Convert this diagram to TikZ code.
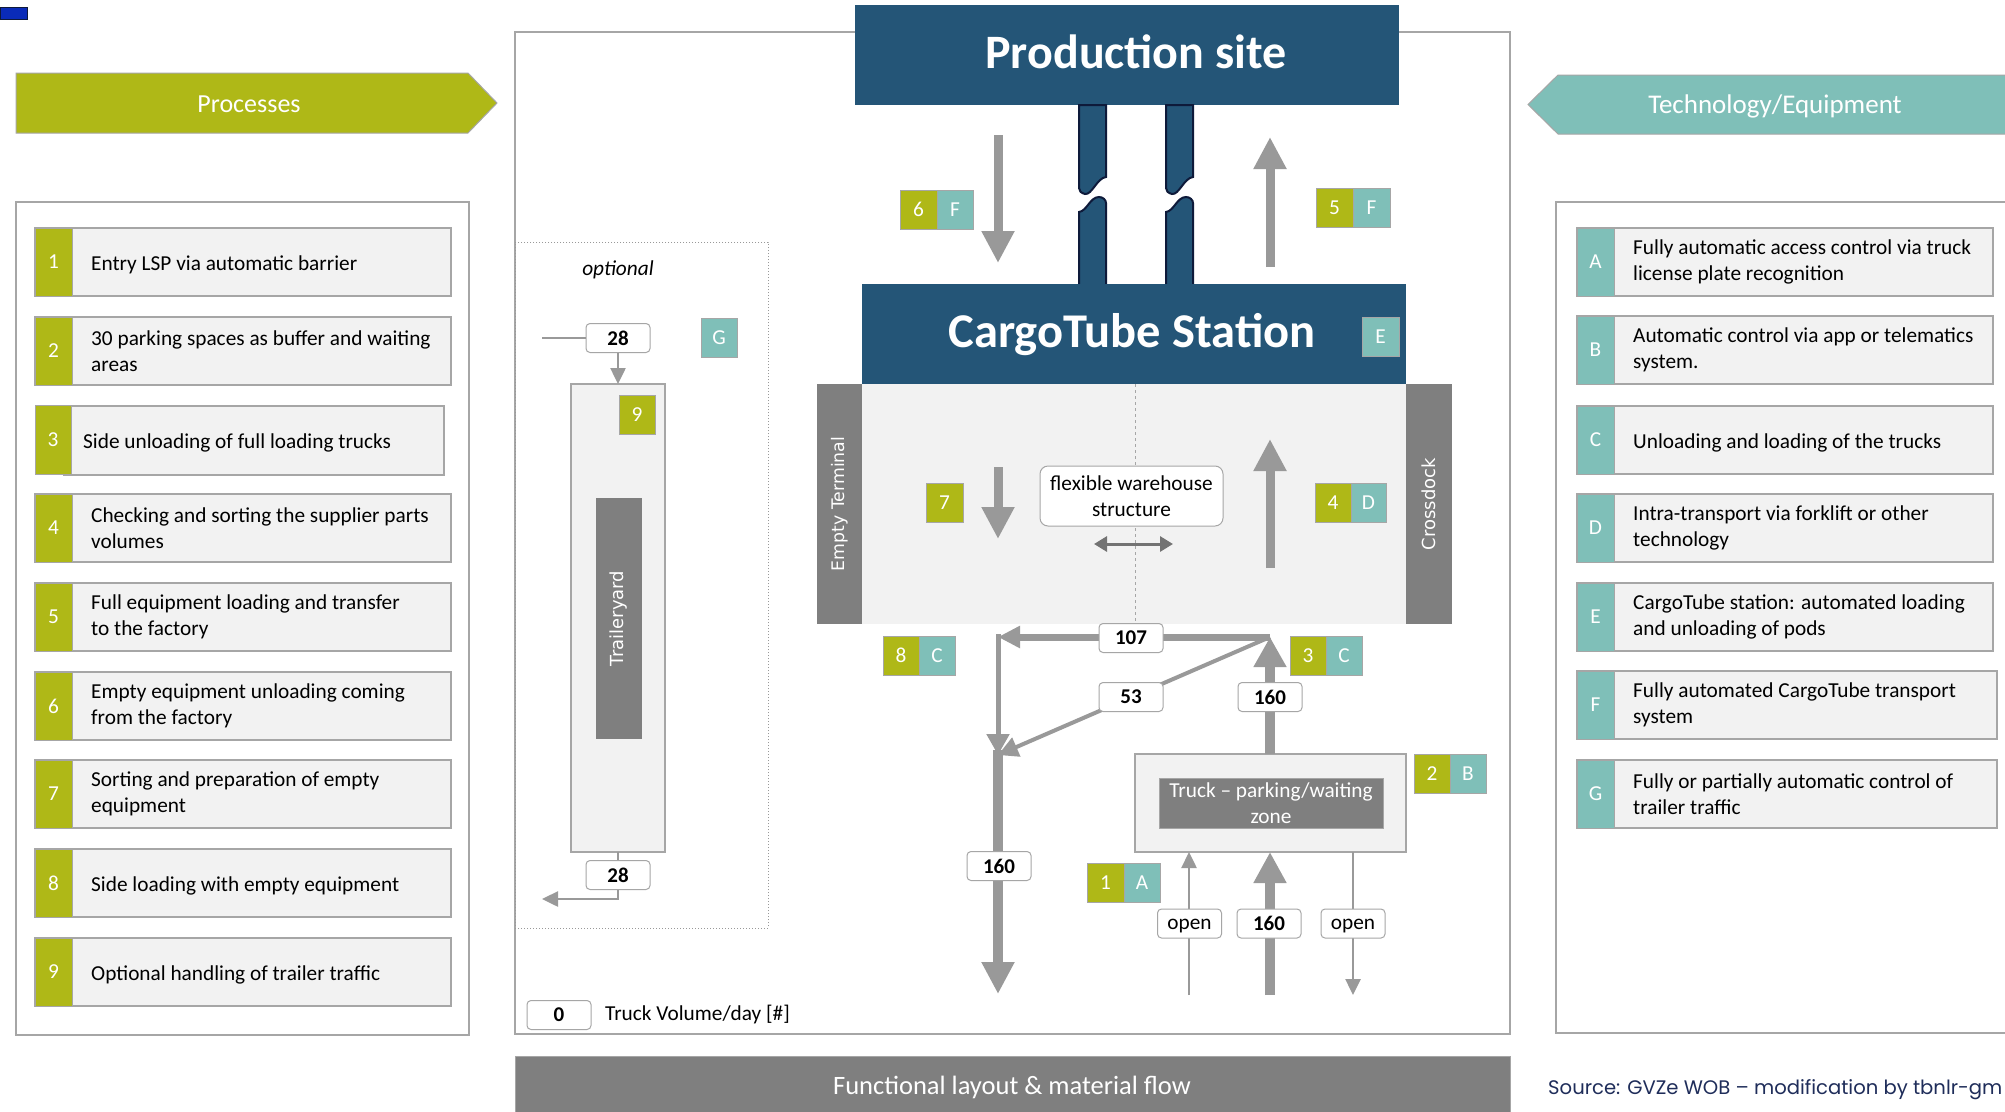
\documentclass[tikz,border=0pt]{standalone}
\usepackage{fontspec}
\setmainfont{Carlito}
\newfontfamily\wideface{DejaVu Sans}
\newfontfamily\srcface{Poppins}
\usetikzlibrary{arrows.meta}
\definecolor{cOlive}{HTML}{AFB817}
\definecolor{cTeal}{HTML}{7FBFB8}
\definecolor{cNavy}{HTML}{245577}
\definecolor{cTubeEdge}{HTML}{0E1A3A}
\definecolor{cDark}{HTML}{7F7F7F}
\definecolor{cLight}{HTML}{F2F2F2}
\definecolor{cBorder}{HTML}{A6A6A6}
\definecolor{cArrow}{HTML}{999999}
\definecolor{cDbl}{HTML}{737373}
\definecolor{cSrc}{HTML}{1F2D5A}
\definecolor{cBlue}{HTML}{0A2BB8}
\newcommand{\fsN}{\fontsize{21.3}{26}\selectfont}
\newcommand{\fsB}{\fontsize{21}{26}\selectfont\bfseries}
\tikzset{
 box/.style={anchor=north west, inner sep=0pt, outer sep=0pt},
 itembox/.style={draw=cBorder, fill=cLight, line width=1.5pt},
 onum/.style={fill=cOlive, draw=cBorder, line width=1pt, text=white, font=\fsN},
 tnum/.style={fill=cTeal, draw=cBorder, line width=1pt, text=white, font=\fsN},
 badge/.style={box, minimum width=36pt, minimum height=39pt},
 itemtext/.style={anchor=west, align=left, font=\fsN, text=black, inner sep=0pt},
 one/.style={yshift=-3pt},
 two/.style={},
 lbl/.style={draw=cBorder, fill=white, rounded corners=4pt, line width=1pt, minimum width=64pt, minimum height=29pt, inner sep=0pt, font=\fsB},
 olbl/.style={lbl, font=\fsN, text height=15pt, text depth=3pt},
 thickarrow/.style={draw=cArrow, line width=9pt, -{Triangle[length=32pt,width=31pt]}},
 diagarrow/.style={draw=cArrow, line width=4pt, -{Triangle[length=20pt,width=20pt]}},
 thinarrow/.style={draw=cArrow, line width=2.5pt, -{Triangle[length=16pt,width=15pt]}},
 thinline/.style={draw=cArrow, line width=2.5pt},
 tube/.style={fill=cNavy, draw=cTubeEdge, line width=2pt},
 rotlabel/.style={rotate=90, text=white, font=\wideface\fontsize{17.3}{20}\selectfont},
}
\newcommand{\pitem}[5]{%
  \node[itembox, box, minimum width=416pt, minimum height=68pt] (#1) at (35,#2) {};
  \node[onum, box, minimum width=37pt, minimum height=68pt] (#1n) at (35,#2) {#3};
  \node[itemtext, #5] (#1t) at (91,#2+34) {#4};}
\newcommand{\titem}[6]{%
  \node[itembox, box, minimum width=#5pt, minimum height=68pt] (#1) at (1577,#2) {};
  \node[tnum, box, minimum width=37pt, minimum height=68pt] (#1n) at (1577,#2) {#3};
  \node[itemtext, #6] (#1t) at (1633,#2+34) {#4};}
\begin{document}
\begin{tikzpicture}[x=1pt,y=-1pt]
\useasboundingbox (0,0) rectangle (2005,1111);
\clip (0,0) rectangle (2005,1111);
\fill[white] (0,0) rectangle (2005,1111);
% small blue mark
\node[box, fill=cBlue, draw=cTubeEdge, line width=1pt, minimum width=27pt, minimum height=12pt] (mark) at (0,7) {};

% ---------- Processes ----------
\draw[fill=cOlive, draw=cBorder, line width=1pt] (16,73) -- (468,73) -- (497,103) -- (468,133) -- (16,133) -- cycle;
\node[text=white, font=\fontsize{26}{30}\selectfont] (proc) at (249,104) {Processes};
\node[box, draw=cBorder, fill=white, line width=1.5pt, minimum width=453pt, minimum height=833pt] (lpanel) at (16,202) {};
\pitem{p1}{228}{1}{Entry LSP via automatic barrier}{one}
\pitem{p2}{317}{2}{30 parking spaces as buffer and waiting\\areas}{two}
\node[itembox, box, minimum width=380pt, minimum height=69pt] (p3) at (64,406) {};
\node[onum, box, minimum width=36pt, minimum height=69pt] (p3n) at (35,405) {3};
\node[itemtext, one] (p3t) at (83,440) {Side unloading of full loading trucks};
\pitem{p4}{494}{4}{Checking and sorting the supplier parts\\volumes}{two}
\pitem{p5}{583}{5}{Full equipment loading and transfer\\to the factory}{two}
\pitem{p6}{672}{6}{Empty equipment unloading coming\\from the factory}{two}
\pitem{p7}{760}{7}{Sorting and preparation of empty\\equipment}{two}
\pitem{p8}{849}{8}{Side loading with empty equipment}{one}
\pitem{p9}{938}{9}{Optional handling of trailer traffic}{one}

% ---------- Technology ----------
\draw[fill=cTeal, draw=cBorder, line width=1pt] (2015,75) -- (1558,75) -- (1528,104.5) -- (1558,134) -- (2015,134) -- cycle;
\node[text=white, font=\fontsize{27}{30}\selectfont] (tech) at (1775,106) {Technology/Equipment};
\node[box, draw=cBorder, fill=white, line width=1.5pt, minimum width=460pt, minimum height=831pt] (rpanel) at (1556,202) {};
\titem{ta}{228}{A}{Fully automatic access control via truck\\license plate recognition}{416}{two}
\titem{tb}{316}{B}{Automatic control via app or telematics\\system.}{416}{two}
\titem{tc}{406}{C}{Unloading and loading of the trucks}{416}{one}
\titem{td}{494}{D}{Intra-transport via forklift or other\\technology}{416}{two}
\titem{te}{583}{E}{CargoTube station: automated loading\\and unloading of pods}{416}{two}
\titem{tf}{671}{F}{Fully automated CargoTube transport\\system}{420}{two}
\titem{tg}{760}{G}{Fully or partially automatic control of\\trailer traffic}{420}{two}

% ---------- Center panel ----------
\node[box, draw=cBorder, fill=white, line width=1.5pt, minimum width=995pt, minimum height=1002pt] (cpanel) at (515,32) {};
\node[box, draw=cBorder, fill=cDark, minimum width=995pt, minimum height=60pt] (banner) at (515,1056) {};
\node[text=white, font=\fontsize{26.5}{30}\selectfont] (bannertxt) at (1012,1087) {Functional layout \& material flow};
\node[anchor=west, inner sep=0pt, text=cSrc, font=\srcface\fontsize{19.6}{24}\selectfont] (src) at (1548,1090) {Source: GVZe WOB – modification by tbnlr-gm};

% optional trailer yard
\node[box, draw=cArrow, dotted, line width=1pt, minimum width=253pt, minimum height=686pt] (optbox) at (515,242) {};
\node[font=\fsN\itshape] (opttxt) at (618,270) {optional};
\node[box, draw=cBorder, fill=cLight, line width=1.2pt, minimum width=94pt, minimum height=468pt] (tyard) at (571,384) {};
\node[box, fill=cDark, minimum width=46pt, minimum height=241pt] (tbar) at (596,498) {};
\node[rotlabel, font=\wideface\fontsize{18}{20}\selectfont] (tbartxt) at (tbar.center) {Traileryard};
\node[onum, badge] (b9) at (619,395) {9};
\node[tnum, badge] (bG) at (701,318) {G};
\node[lbl] (t28a) at (618,338) {28};
\node[lbl] (t28b) at (618,875) {28};
\coordinate (tin) at (542,338);
\coordinate (tcorner) at (618,899);
\coordinate (tout) at (542,899);
\draw[thinline] (tin) -- (t28a.west);
\draw[thinarrow] (t28a.south) -- (tyard.north);
\draw[thinline] (tyard.south) -- (t28b.north);
\draw[thinarrow] (t28b.south) -- (tcorner) -- (tout);

% production site & tubes
\node[box, fill=cNavy, minimum width=544pt, minimum height=100pt] (prod) at (855,5) {};
\node[text=white, font=\fontsize{48}{50}\selectfont\bfseries] (prodtxt) at (1136,52) {Production site};
\foreach \dx in {0,87}{
 \begin{scope}[xshift=\dx]
 \draw[tube] (1079,105) -- (1106,105) -- (1106,177) .. controls (1097,178) and (1092,195) .. (1085,194) .. controls (1081,193) and (1079,191) .. (1079,188) -- cycle;
 \draw[tube] (1079,287) -- (1079,212) .. controls (1087,211) and (1090,197) .. (1099,197) .. controls (1103,197) and (1106,200) .. (1106,203) -- (1106,287) -- cycle;
 \end{scope}
}
\node[box, fill=cNavy, minimum width=544pt, minimum height=100pt] (station) at (862,284) {};
\node[text=white, font=\fontsize{48.5}{50}\selectfont\bfseries] (stationtxt) at (1132,335) {CargoTube Station};
\node[tnum, badge, minimum width=37pt] (bE) at (1362,317) {E};
\coordinate (a6s) at (998,135);
\coordinate (a6e) at (998,263);
\coordinate (a5s) at (1270,267);
\coordinate (a5e) at (1270,137);
\draw[thickarrow] (a6s) -- (a6e);
\draw[thickarrow] (a5s) -- (a5e);
\node[onum, badge, minimum width=37pt] (b6) at (900,190) {6};
\node[tnum, badge] (b6F) at (937,190) {F};
\node[onum, badge, minimum width=37pt] (b5) at (1316,188) {5};
\node[tnum, badge, minimum width=37pt] (b5F) at (1353,188) {F};

% warehouse
\node[box, fill=cLight, minimum width=544pt, minimum height=240pt] (wh) at (862,384) {};
\node[box, fill=cDark, minimum width=45pt, minimum height=240pt] (eterm) at (817,384) {};
\node[box, fill=cDark, minimum width=46pt, minimum height=240pt] (xdock) at (1406,384) {};
\node[rotlabel] (etermtxt) at (eterm.center) {Empty Terminal};
\node[rotlabel, font=\wideface\fontsize{18}{20}\selectfont] (xdocktxt) at (xdock.center) {Crossdock};
\coordinate (dtop) at (1135,384);
\coordinate (dbot) at (1135,624);
\draw[cBorder, dashed, line width=1pt] (dtop) -- (dbot);
\node[draw=cBorder, fill=white, rounded corners=8pt, line width=1pt, minimum width=183pt, minimum height=60pt, align=center, font=\fsN, inner sep=0pt] (flex) at (1131.5,496) {flexible warehouse\\structure};
\coordinate (dbl1) at (1094,544);
\coordinate (dbl2) at (1173,544);
\draw[draw=cDbl, line width=3pt, {Triangle[length=13pt,width=15pt]}-{Triangle[length=13pt,width=15pt]}] (dbl1) -- (dbl2);
\coordinate (a7s) at (998,467);
\coordinate (a7e) at (998,539);
\coordinate (a4s) at (1270,568);
\coordinate (a4e) at (1270,439);
\draw[thickarrow] (a7s) -- (a7e);
\draw[thickarrow] (a4s) -- (a4e);
\node[onum, badge, minimum width=37pt] (b7) at (926,483) {7};
\node[onum, badge] (b4) at (1315,483) {4};
\node[tnum, badge, minimum width=35pt] (b4D) at (1351,483) {D};

% truck flows
\node[box, draw=cBorder, fill=cLight, line width=1.5pt, minimum width=271pt, minimum height=98pt] (park) at (1135,754) {};
\node[box, fill=cDark, draw=cBorder, line width=1pt, minimum width=224pt, minimum height=50pt, text=white, align=center, font=\fsN] (parkin) at (1159,778) {Truck – parking/waiting\\zone};
\coordinate (J) at (1270,637);
\coordinate (L) at (998,637);
\coordinate (Ltop) at (998,634);
\coordinate (M) at (998,755);
\coordinate (Mtop) at (998,750);
\coordinate (Mend) at (998,994);
\draw[draw=cArrow, line width=10pt, -{Triangle[length=30pt,width=31pt]}] (park.north -| J) -- (J);
\draw[draw=cArrow, line width=7pt, -{Triangle[length=22pt,width=21pt]}] (J) -- (L);
\draw[draw=cArrow, line width=5pt, -{Triangle[length=21pt,width=22pt]}] (Ltop) -- (M);
\draw[diagarrow] (J) -- (M);
\draw[draw=cArrow, line width=10pt, -{Triangle[length=32pt,width=31pt]}] (Mtop) -- (Mend);
\node[lbl] (l107) at (1131,638) {107};
\node[lbl] (l53) at (1131,697) {53};
\node[lbl] (l160a) at (1270,697) {160};
\node[lbl] (l160b) at (999,866) {160};
\node[onum, badge] (b8) at (883,636) {8};
\node[tnum, badge] (b8C) at (919,636) {C};
\node[onum, badge] (b3) at (1290,636) {3};
\node[tnum, badge] (b3C) at (1326,636) {C};
\node[onum, badge] (b2) at (1414,754) {2};
\node[tnum, badge] (b2B) at (1450,754) {B};
\node[onum, badge, minimum width=37pt] (b1) at (1087,863) {1};
\node[tnum, badge] (b1A) at (1124,863) {A};
\coordinate (o1s) at (1189,995);
\coordinate (o2s) at (1270,995);
\coordinate (o3e) at (1353,995);
\draw[thinarrow] (o1s) -- (o1s |- park.south);
\draw[draw=cArrow, line width=10pt, -{Triangle[length=31pt,width=31pt]}] (o2s) -- (o2s |- park.south);
\draw[thinarrow] (o3e |- park.south) -- (o3e);
\node[olbl] (lo1) at (1189.5,923.5) {open};
\node[lbl] (lo2) at (1269,923.5) {160};
\node[olbl] (lo3) at (1353,923.5) {open};

% legend
\node[lbl] (leg0) at (559,1015) {0};
\node[anchor=west, font=\fsN, inner sep=0pt] (legtxt) at (605,1015) {Truck Volume/day [\#]};
\end{tikzpicture}
\end{document}
